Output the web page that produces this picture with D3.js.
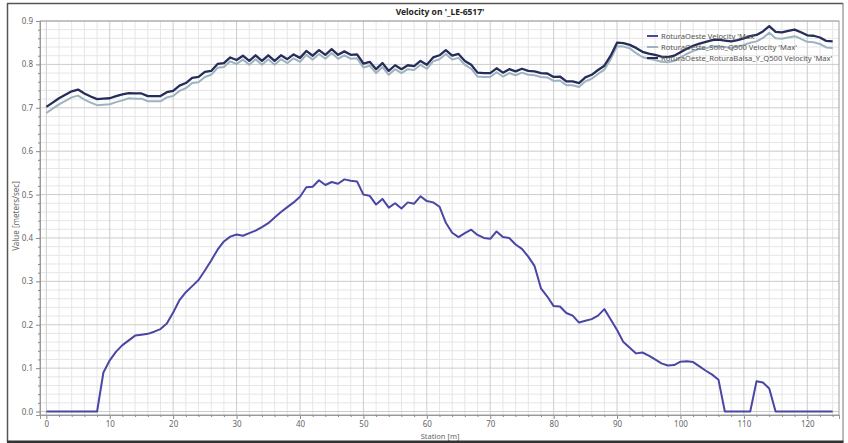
<!DOCTYPE html>
<html><head><meta charset="utf-8">
<script src="https://cdn.jsdelivr.net/npm/d3@7"></script>
<style>html,body{margin:0;padding:0;background:#fff;}svg{display:block;font-family:"Noto Sans",sans-serif;}</style>
</head><body>
<svg id="chart" width="848" height="443"></svg>
<script>
const titleText = "Velocity on '_LE-6517'";
const xLabel = "Station [m]";
const yLabel = "Value [meters/sec]";
const seriesNames = ["RoturaOeste Velocity 'Max'", "RoturaOeste_Solo_Q500 Velocity 'Max'", "RoturaOeste_RoturaBalsa_Y_Q500 Velocity 'Max'"];
const seriesColors = ["#4a46a6", "#9db3bf", "#262d5a"];
const xTicks = [0,10,20,30,40,50,60,70,80,90,100,110,120];
const yTicks = [0.0,0.1,0.2,0.3,0.4,0.5,0.6,0.7,0.8,0.9];
const stations = [0,1,2,3,4,5,6,7,8,9,10,11,12,13,14,15,16,17,18,19,20,21,22,23,24,25,26,27,28,29,30,31,32,33,34,35,36,37,38,39,40,41,42,43,44,45,46,47,48,49,50,51,52,53,54,55,56,57,58,59,60,61,62,63,64,65,66,67,68,69,70,71,72,73,74,75,76,77,78,79,80,81,82,83,84,85,86,87,88,89,90,91,92,93,94,95,96,97,98,99,100,101,102,103,104,105,106,107,108,109,110,111,112,113,114,115,116,117,118,119,120,121,122,123,124];
const roturaOeste = [0,0,0,0,0,0,0,0,0,0.09,0.118,0.138,0.153,0.164,0.175,0.177,0.179,0.184,0.19,0.203,0.228,0.257,0.275,0.289,0.303,0.325,0.348,0.373,0.392,0.403,0.408,0.405,0.411,0.417,0.425,0.434,0.447,0.46,0.471,0.482,0.495,0.517,0.518,0.533,0.522,0.529,0.525,0.535,0.532,0.53,0.5,0.497,0.477,0.49,0.47,0.48,0.468,0.482,0.479,0.496,0.485,0.482,0.472,0.435,0.412,0.402,0.411,0.419,0.407,0.4,0.398,0.415,0.402,0.4,0.385,0.375,0.357,0.335,0.284,0.265,0.243,0.242,0.227,0.221,0.205,0.209,0.213,0.221,0.236,0.212,0.188,0.16,0.147,0.134,0.136,0.129,0.12,0.111,0.106,0.107,0.115,0.116,0.114,0.104,0.094,0.085,0.073,0,0,0,0,0,0.07,0.067,0.053,0,0,0,0,0,0,0,0,0,0];
const soloQ500 = [0.688,0.698,0.708,0.716,0.724,0.728,0.719,0.712,0.706,0.707,0.708,0.713,0.717,0.722,0.721,0.721,0.715,0.715,0.715,0.724,0.727,0.739,0.745,0.757,0.759,0.771,0.776,0.792,0.794,0.807,0.801,0.811,0.799,0.812,0.799,0.812,0.799,0.812,0.803,0.814,0.806,0.822,0.811,0.824,0.813,0.826,0.813,0.821,0.813,0.814,0.793,0.797,0.78,0.794,0.776,0.789,0.78,0.789,0.787,0.799,0.79,0.807,0.812,0.824,0.811,0.815,0.799,0.79,0.772,0.771,0.771,0.782,0.772,0.78,0.775,0.781,0.776,0.775,0.771,0.77,0.762,0.763,0.752,0.752,0.748,0.761,0.767,0.778,0.788,0.812,0.842,0.841,0.837,0.826,0.817,0.813,0.81,0.806,0.805,0.808,0.816,0.824,0.831,0.836,0.837,0.841,0.842,0.84,0.838,0.841,0.845,0.85,0.853,0.861,0.873,0.86,0.859,0.862,0.865,0.859,0.852,0.851,0.847,0.839,0.838];
const balsaQ500 = [0.702,0.712,0.722,0.73,0.738,0.742,0.733,0.726,0.72,0.721,0.722,0.727,0.731,0.734,0.733,0.733,0.727,0.727,0.727,0.736,0.739,0.751,0.757,0.769,0.771,0.783,0.785,0.801,0.803,0.816,0.81,0.82,0.808,0.821,0.808,0.821,0.808,0.821,0.812,0.823,0.815,0.831,0.82,0.833,0.822,0.835,0.822,0.83,0.822,0.823,0.802,0.806,0.789,0.803,0.785,0.798,0.789,0.798,0.796,0.808,0.799,0.816,0.821,0.833,0.82,0.824,0.808,0.799,0.781,0.78,0.78,0.791,0.781,0.789,0.784,0.79,0.785,0.784,0.78,0.779,0.771,0.772,0.761,0.761,0.757,0.77,0.776,0.787,0.797,0.82,0.85,0.849,0.845,0.838,0.829,0.825,0.822,0.818,0.817,0.82,0.828,0.836,0.843,0.848,0.852,0.856,0.857,0.855,0.853,0.856,0.86,0.865,0.868,0.876,0.888,0.875,0.874,0.877,0.88,0.874,0.867,0.866,0.862,0.854,0.853];

const svg = d3.select("#chart");
const W = 848, H = 443;
const P = {l: 40, r: 839, t: 21, b: 415};
const x = d3.scaleLinear().domain([-1, 125]).range([P.l, P.r]);
const y = d3.scaleLinear().domain([-0.008, 0.9]).range([P.b, P.t]);

svg.append("rect").attr("width", W).attr("height", H).attr("fill", "#fff");

// grid
const g = svg.append("g");
const minorX = d3.range(0, 125, 2).filter(v => v % 10 !== 0);
const minorY = d3.range(0, 90, 2).map(v => v / 100).filter(v => Math.round(v * 100) % 10 !== 0);
g.selectAll(".mx").data(minorX).join("line").attr("x1", d => x(d)).attr("x2", d => x(d)).attr("y1", P.t).attr("y2", P.b).attr("stroke", "#e6e6e6");
g.selectAll(".my").data(minorY).join("line").attr("y1", d => y(d)).attr("y2", d => y(d)).attr("x1", P.l).attr("x2", P.r).attr("stroke", "#e6e6e6");
g.selectAll(".Mx").data(xTicks).join("line").attr("x1", d => x(d)).attr("x2", d => x(d)).attr("y1", P.t).attr("y2", P.b).attr("stroke", "#cccccc");
g.selectAll(".My").data(yTicks).join("line").attr("y1", d => y(d)).attr("y2", d => y(d)).attr("x1", P.l).attr("x2", P.r).attr("stroke", "#cccccc");

// plot border
svg.append("rect").attr("x", P.l).attr("y", P.t).attr("width", P.r - P.l).attr("height", P.b - P.t)
  .attr("fill", "none").attr("stroke", "#a0a0a0");

// axes
const xAxis = d3.axisBottom(x).tickValues(xTicks).tickSize(4).tickFormat(d3.format("d"));
const xAx = svg.append("g").attr("transform", `translate(0,${P.b})`).call(xAxis);
const xMinor = d3.axisBottom(x).tickValues(minorX).tickSize(2).tickFormat("");
svg.append("g").attr("transform", `translate(0,${P.b})`).call(xMinor);
const yAxis = d3.axisLeft(y).tickValues(yTicks).tickSize(4).tickFormat(d3.format(".1f"));
svg.append("g").attr("transform", `translate(${P.l},0)`).call(yAxis);
const yMinor = d3.axisLeft(y).tickValues(minorY).tickSize(2).tickFormat("");
svg.append("g").attr("transform", `translate(${P.l},0)`).call(yMinor);
svg.selectAll(".domain").attr("stroke", "#999");
svg.selectAll(".tick line").attr("stroke", "#888");
svg.selectAll(".tick text").attr("fill", "#666").attr("font-size", "8px").attr("font-family", "Noto Sans, sans-serif");
xAx.selectAll(".tick text").attr("dy", "0.8em").attr("y", 6);

// series
const line = d3.line().x((d, i) => x(stations[i])).y(d => y(d));
const series = [roturaOeste, soloQ500, balsaQ500];
const widths = [2, 2, 2.3];
series.forEach((vals, k) => {
  svg.append("path").datum(vals).attr("d", line).attr("fill", "none")
    .attr("stroke", seriesColors[k]).attr("stroke-width", widths[k]).attr("stroke-linejoin", "round");
});

// legend
const leg = svg.append("g");
seriesNames.forEach((name, k) => {
  const ly = 36 + k * 11;
  leg.append("line").attr("x1", 647).attr("x2", 658).attr("y1", ly).attr("y2", ly)
    .attr("stroke", seriesColors[k]).attr("stroke-width", 2);
  leg.append("text").attr("x", 661).attr("y", ly).attr("dy", "0.35em").attr("font-size", "7.6px")
    .attr("fill", "#555").text(name);
});

// title & labels
svg.append("text").attr("x", 440).attr("y", 15).attr("text-anchor", "middle").attr("font-size", "8.5px")
  .attr("font-weight", "bold").attr("fill", "#222").text(titleText);
svg.append("text").attr("x", 440).attr("y", 438.5).attr("text-anchor", "middle").attr("font-size", "7.5px")
  .attr("fill", "#666").text(xLabel);
svg.append("text").attr("transform", "translate(19,216) rotate(-90)").attr("text-anchor", "middle")
  .attr("font-size", "8px").attr("fill", "#666").text(yLabel);

// outer frame
svg.append("line").attr("x1", 7).attr("x2", 843).attr("y1", 3.5).attr("y2", 3.5).attr("stroke", "#555").attr("stroke-width", 1.5);
svg.append("line").attr("x1", 7.5).attr("x2", 7.5).attr("y1", 3).attr("y2", 442).attr("stroke", "#555").attr("stroke-width", 1.5);
svg.append("line").attr("x1", 843).attr("x2", 843).attr("y1", 3).attr("y2", 442).attr("stroke", "#777").attr("stroke-width", 1);
svg.append("rect").attr("x", 7).attr("y", 440.5).attr("width", 836.5).attr("height", 2.5).attr("fill", "#333");
</script>
</body></html>
